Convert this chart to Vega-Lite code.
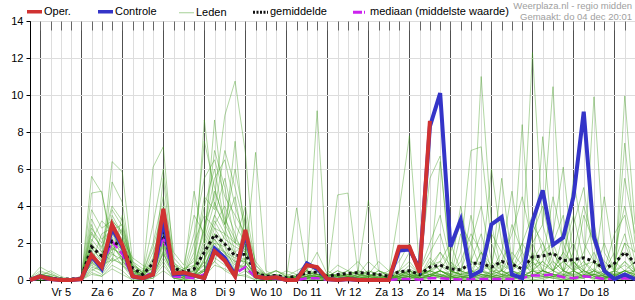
{
"$schema":"https://vega.github.io/schema/vega-lite/v6.json",
"autosize":{"type":"none"},
"width":605,"height":259,
"padding":{"left":30,"top":21,"right":0,"bottom":20},
"background":"#ffffff",
"config":{"font":"Liberation Sans","view":{"stroke":"#000000","strokeWidth":1},
"axisY":{"tickCount":7,"gridColor":"#dddddd","gridWidth":1,"tickSize":4,"tickColor":"#000000","domainColor":"#000000","labelFontSize":11,"labelColor":"#000000","labelPadding":3}},
"title":{"text":["Weerplaza.nl - regio midden","Gemaakt: do 04 dec 20:01"],"anchor":"end","frame":"group","fontSize":9.5,"fontWeight":"normal","color":"#a0a0a0","lineHeight":10.5,"offset":-15,"dx":-3},
"data":{"values":[
{"k":0,"o":0,"c":0,"g":0.05,"d":0,"m1":0,"m2":0,"m3":0,"m4":0.1,"m5":0,"m6":0,"m7":0,"m8":0.1,"m9":0,"m10":0,"m11":0,"m12":0,"m13":0,"m14":0,"m15":0,"m16":0.1,"m17":0,"m18":0,"m19":0,"m20":0,"m21":0,"m22":0,"m23":0,"m24":0,"m25":0.1,"m26":0,"m27":0,"m28":0,"m29":0,"m30":0},
{"k":1,"o":0.2,"c":0.2,"g":0.15,"d":0.1,"m1":0.1,"m2":0.3,"m3":0,"m4":0.7,"m5":0.2,"m6":0.1,"m7":0.2,"m8":0.3,"m9":0,"m10":0.1,"m11":0.2,"m12":0.1,"m13":0.4,"m14":0,"m15":0.2,"m16":0.2,"m17":0.1,"m18":0.2,"m19":0.1,"m20":0.3,"m21":0.2,"m22":0.1,"m23":0.3,"m24":0.2,"m25":0.5,"m26":0.1,"m27":0.2,"m28":0.1,"m29":0.3,"m30":0.1},
{"k":2,"o":0.05,"c":0.05,"g":0.1,"d":0.02,"m1":0,"m2":0.2,"m3":0.1,"m4":0.4,"m5":0.5,"m6":0,"m7":0.1,"m8":0.2,"m9":0,"m10":0.1,"m11":0,"m12":0,"m13":0.3,"m14":0,"m15":0.1,"m16":0.1,"m17":0,"m18":0.1,"m19":0,"m20":0.1,"m21":0.1,"m22":0,"m23":0.2,"m24":0,"m25":0.3,"m26":0.1,"m27":0.1,"m28":0,"m29":0.2,"m30":0},
{"k":3,"o":0,"c":0,"g":0.05,"d":0,"m1":0,"m2":0,"m3":0,"m4":0.1,"m5":0.2,"m6":0,"m7":0,"m8":0,"m9":0,"m10":0,"m11":0,"m12":0,"m13":0.1,"m14":0,"m15":0,"m16":0,"m17":0,"m18":0,"m19":0,"m20":0,"m21":0,"m22":0,"m23":0,"m24":0,"m25":0.1,"m26":0,"m27":0,"m28":0,"m29":0,"m30":0},
{"k":4,"o":0,"c":0,"g":0.05,"d":0,"m1":0,"m2":0,"m3":0,"m4":0,"m5":0,"m6":0,"m7":0,"m8":0,"m9":0,"m10":0,"m11":0,"m12":0,"m13":0,"m14":0,"m15":0,"m16":0,"m17":0,"m18":0,"m19":0,"m20":0,"m21":0,"m22":0,"m23":0,"m24":0,"m25":0,"m26":0,"m27":0,"m28":0,"m29":0,"m30":0},
{"k":5,"o":0.05,"c":0.05,"g":0.1,"d":0.02,"m1":0,"m2":0.1,"m3":0,"m4":0,"m5":0,"m6":0,"m7":0.2,"m8":0,"m9":0,"m10":0,"m11":0,"m12":0,"m13":0,"m14":0,"m15":0.1,"m16":0,"m17":0,"m18":0,"m19":0,"m20":0,"m21":0,"m22":0,"m23":0,"m24":0,"m25":0,"m26":0,"m27":0,"m28":0,"m29":0.1,"m30":0},
{"k":6,"o":1.35,"c":1.3,"g":1.8,"d":1.2,"m1":5.6,"m2":1.5,"m3":0.5,"m4":3.0,"m5":2.0,"m6":1.2,"m7":0.8,"m8":1.0,"m9":0.3,"m10":2.5,"m11":1.8,"m12":0.6,"m13":1.0,"m14":0.4,"m15":2.2,"m16":1.3,"m17":0.9,"m18":1.6,"m19":1.4,"m20":4.7,"m21":2.8,"m22":1.9,"m23":3.8,"m24":1.1,"m25":2.6,"m26":0.7,"m27":3.3,"m28":0.9,"m29":2.1,"m30":1.7},
{"k":7,"o":0.7,"c":0.6,"g":1.3,"d":0.7,"m1":4.7,"m2":1.0,"m3":0.8,"m4":1.5,"m5":1.2,"m6":0.7,"m7":0.5,"m8":0.4,"m9":0.2,"m10":1.8,"m11":1.0,"m12":0.3,"m13":0.6,"m14":0.2,"m15":1.5,"m16":0.9,"m17":2.5,"m18":0.6,"m19":0.8,"m20":4.8,"m21":2.0,"m22":1.3,"m23":2.8,"m24":0.7,"m25":1.7,"m26":0.5,"m27":2.2,"m28":0.6,"m29":3.2,"m30":1.1},
{"k":8,"o":3.0,"c":2.8,"g":2.1,"d":2.1,"m1":2.0,"m2":6.4,"m3":5.3,"m4":2.5,"m5":1.5,"m6":3.5,"m7":1.8,"m8":1.2,"m9":0.8,"m10":3.0,"m11":2.5,"m12":1.0,"m13":1.5,"m14":0.6,"m15":1.0,"m16":2.2,"m17":2.8,"m18":1.9,"m19":1.1,"m20":1.6,"m21":4.0,"m22":2.3,"m23":3.2,"m24":2.0,"m25":3.8,"m26":1.4,"m27":2.7,"m28":1.7,"m29":2.6,"m30":3.3},
{"k":9,"o":1.9,"c":1.8,"g":1.8,"d":1.4,"m1":1.5,"m2":5.85,"m3":4.2,"m4":2.0,"m5":0.8,"m6":2.5,"m7":1.2,"m8":0.8,"m9":0.5,"m10":2.2,"m11":1.5,"m12":1.3,"m13":2.8,"m14":0.3,"m15":3.5,"m16":1.6,"m17":1.0,"m18":1.2,"m19":0.9,"m20":2.2,"m21":3.2,"m22":1.7,"m23":2.6,"m24":1.0,"m25":2.9,"m26":1.1,"m27":3.0,"m28":1.4,"m29":1.9,"m30":2.4},
{"k":10,"o":0.2,"c":0.2,"g":0.65,"d":0.15,"m1":0.3,"m2":1.0,"m3":0.5,"m4":0.8,"m5":0.3,"m6":0.5,"m7":0.2,"m8":0.1,"m9":0,"m10":1.2,"m11":0.4,"m12":0.3,"m13":0.6,"m14":0,"m15":0.8,"m16":0.3,"m17":0.5,"m18":0.5,"m19":0.2,"m20":0.4,"m21":0.6,"m22":0.4,"m23":0.9,"m24":0.3,"m25":0.7,"m26":0.2,"m27":1.0,"m28":0.3,"m29":0.5,"m30":0.6},
{"k":11,"o":0.1,"c":0.1,"g":0.3,"d":0.05,"m1":0.1,"m2":0.3,"m3":0.2,"m4":0.5,"m5":0.1,"m6":0.2,"m7":0.1,"m8":0,"m9":0,"m10":0.8,"m11":0.2,"m12":0.1,"m13":0.3,"m14":0,"m15":0.4,"m16":0.2,"m17":0.3,"m18":0.2,"m19":0.1,"m20":0.2,"m21":0.3,"m22":0.2,"m23":0.4,"m24":0.1,"m25":0.4,"m26":0.1,"m27":0.6,"m28":0.1,"m29":0.3,"m30":0.3},
{"k":12,"o":0.3,"c":0.3,"g":0.9,"d":0.5,"m1":0.5,"m2":1.5,"m3":6.1,"m4":0.3,"m5":0.2,"m6":1.0,"m7":0.3,"m8":0.2,"m9":0.1,"m10":0.5,"m11":0.8,"m12":0.4,"m13":0.2,"m14":0.1,"m15":2.0,"m16":0.3,"m17":0.6,"m18":0.5,"m19":0.2,"m20":0.4,"m21":1.2,"m22":0.7,"m23":3.0,"m24":0.4,"m25":1.8,"m26":0.3,"m27":0.6,"m28":0.5,"m29":1.1,"m30":0.9},
{"k":13,"o":3.85,"c":3.2,"g":2.6,"d":2.4,"m1":2.0,"m2":3.0,"m3":7.2,"m4":5.5,"m5":1.5,"m6":3.5,"m7":2.2,"m8":1.0,"m9":0.5,"m10":2.8,"m11":3.2,"m12":1.8,"m13":1.5,"m14":0.8,"m15":4.5,"m16":2.6,"m17":2.4,"m18":1.9,"m19":1.2,"m20":1.6,"m21":4.0,"m22":2.9,"m23":6.0,"m24":2.1,"m25":3.8,"m26":1.4,"m27":3.3,"m28":2.3,"m29":3.0,"m30":3.6},
{"k":14,"o":0.35,"c":0.3,"g":0.65,"d":0.2,"m1":0.3,"m2":0.5,"m3":1.0,"m4":0.7,"m5":0.2,"m6":0.5,"m7":0.1,"m8":0.1,"m9":0.1,"m10":0.8,"m11":0.4,"m12":0.2,"m13":0.3,"m14":0.1,"m15":1.2,"m16":0.2,"m17":0.5,"m18":0.4,"m19":0.3,"m20":0.6,"m21":0.8,"m22":0.6,"m23":1.5,"m24":0.4,"m25":0.9,"m26":0.3,"m27":0.7,"m28":0.3,"m29":0.6,"m30":0.5},
{"k":15,"o":0.4,"c":0.35,"g":0.45,"d":0.15,"m1":0.1,"m2":0.2,"m3":0.3,"m4":0.4,"m5":0.1,"m6":0.3,"m7":0.1,"m8":0,"m9":0,"m10":0.5,"m11":0.2,"m12":0.3,"m13":0.2,"m14":0,"m15":0.6,"m16":0.1,"m17":0.3,"m18":0.2,"m19":0.1,"m20":0.4,"m21":0.5,"m22":0.3,"m23":0.8,"m24":0.2,"m25":0.6,"m26":0.1,"m27":0.4,"m28":0.2,"m29":0.3,"m30":0.3},
{"k":16,"o":0.25,"c":0.25,"g":0.6,"d":0.1,"m1":0.2,"m2":0.3,"m3":0.5,"m4":4.8,"m5":0.5,"m6":0.2,"m7":0.3,"m8":0.1,"m9":0.2,"m10":0.3,"m11":0.2,"m12":0.5,"m13":0.1,"m14":0,"m15":1.0,"m16":0.1,"m17":0.8,"m18":0.3,"m19":0.2,"m20":0.2,"m21":2.5,"m22":1.5,"m23":3.5,"m24":0.4,"m25":0.8,"m26":0.2,"m27":1.2,"m28":0.6,"m29":2.0,"m30":0.7},
{"k":17,"o":0.1,"c":0.1,"g":1.5,"d":0.3,"m1":1.0,"m2":2.0,"m3":8.65,"m4":2.0,"m5":3.0,"m6":1.5,"m7":0.8,"m8":0.5,"m9":0.6,"m10":1.0,"m11":0.5,"m12":0.8,"m13":0.5,"m14":0.2,"m15":4.0,"m16":1.2,"m17":0.3,"m18":0.5,"m19":0.6,"m20":1.5,"m21":5.5,"m22":7.5,"m23":2.5,"m24":1.8,"m25":2.8,"m26":1.1,"m27":4.5,"m28":2.2,"m29":3.5,"m30":2.6},
{"k":18,"o":1.55,"c":1.7,"g":2.45,"d":1.5,"m1":2.5,"m2":3.5,"m3":4.0,"m4":8.65,"m5":4.5,"m6":3.0,"m7":2.0,"m8":1.5,"m9":1.2,"m10":3.5,"m11":2.2,"m12":1.8,"m13":1.0,"m14":0.8,"m15":6.0,"m16":2.0,"m17":1.0,"m18":2.5,"m19":1.6,"m20":2.2,"m21":6.5,"m22":5.0,"m23":7.0,"m24":3.2,"m25":5.5,"m26":2.8,"m27":3.8,"m28":4.2,"m29":2.8,"m30":4.8},
{"k":19,"o":1.05,"c":1.2,"g":1.95,"d":1.0,"m1":1.5,"m2":2.5,"m3":3.0,"m4":3.5,"m5":8.9,"m6":4.0,"m7":1.2,"m8":1.0,"m9":0.8,"m10":5.5,"m11":1.5,"m12":1.5,"m13":0.5,"m14":0.6,"m15":3.0,"m16":1.8,"m17":2.5,"m18":2.0,"m19":1.1,"m20":1.4,"m21":4.5,"m22":3.0,"m23":5.0,"m24":2.2,"m25":6.5,"m26":1.9,"m27":7.0,"m28":2.8,"m29":2.5,"m30":3.3},
{"k":20,"o":0.2,"c":0.25,"g":1.3,"d":0.35,"m1":0.5,"m2":1.0,"m3":2.0,"m4":1.5,"m5":10.75,"m6":2.5,"m7":0.3,"m8":0.2,"m9":0.5,"m10":3.0,"m11":0.8,"m12":1.2,"m13":0.2,"m14":0.3,"m15":4.5,"m16":0.6,"m17":2.0,"m18":1.5,"m19":0.5,"m20":1.0,"m21":3.5,"m22":6.0,"m23":2.0,"m24":1.8,"m25":4.0,"m26":0.9,"m27":5.0,"m28":1.3,"m29":7.5,"m30":2.2},
{"k":21,"o":2.7,"c":2.5,"g":1.4,"d":0.7,"m1":1.0,"m2":0.5,"m3":1.5,"m4":2.0,"m5":6.9,"m6":1.0,"m7":3.5,"m8":0.3,"m9":0.8,"m10":2.0,"m11":1.2,"m12":1.0,"m13":0.5,"m14":0.2,"m15":1.5,"m16":0.8,"m17":1.8,"m18":0.8,"m19":0.6,"m20":1.0,"m21":2.5,"m22":3.0,"m23":4.0,"m24":1.5,"m25":2.2,"m26":0.7,"m27":2.8,"m28":1.1,"m29":1.8,"m30":1.6},
{"k":22,"o":0.2,"c":0.2,"g":0.4,"d":0.15,"m1":0.2,"m2":0.1,"m3":0.5,"m4":0.3,"m5":0.5,"m6":6.9,"m7":0.2,"m8":0,"m9":0.1,"m10":0.5,"m11":0.2,"m12":0.3,"m13":0.1,"m14":0,"m15":0.8,"m16":0.1,"m17":0.3,"m18":0.2,"m19":0.1,"m20":0.2,"m21":0.5,"m22":1.0,"m23":0.8,"m24":0.3,"m25":0.6,"m26":0.2,"m27":0.4,"m28":0.2,"m29":0.4,"m30":0.3},
{"k":23,"o":0.1,"c":0.1,"g":0.2,"d":0.05,"m1":0,"m2":0,"m3":0.1,"m4":0.2,"m5":0.1,"m6":0.5,"m7":0.1,"m8":0,"m9":0,"m10":0.3,"m11":0.1,"m12":0.2,"m13":0,"m14":0,"m15":0.3,"m16":0.1,"m17":0.1,"m18":0,"m19":0,"m20":0.1,"m21":0.2,"m22":0.3,"m23":0.2,"m24":0.1,"m25":0.3,"m26":0,"m27":0.2,"m28":0.1,"m29":0.2,"m30":0.1},
{"k":24,"o":0.15,"c":0.15,"g":0.25,"d":0.05,"m1":0,"m2":0.1,"m3":0,"m4":0.5,"m5":0.2,"m6":0.2,"m7":0,"m8":0.1,"m9":0,"m10":0.5,"m11":0,"m12":0.1,"m13":0.2,"m14":0,"m15":0.2,"m16":0,"m17":0.2,"m18":0.1,"m19":0,"m20":0.1,"m21":0.3,"m22":0.1,"m23":0.3,"m24":0.1,"m25":0.5,"m26":0,"m27":0.2,"m28":0,"m29":0.1,"m30":0.2},
{"k":25,"o":0,"c":0,"g":0.12,"d":0,"m1":0,"m2":0,"m3":0,"m4":0.3,"m5":0.1,"m6":0,"m7":0.1,"m8":0.2,"m9":0,"m10":0.2,"m11":0,"m12":0,"m13":0.5,"m14":0,"m15":0.1,"m16":0.1,"m17":0,"m18":0,"m19":0,"m20":0.1,"m21":0.1,"m22":0,"m23":0.2,"m24":0,"m25":0.2,"m26":0,"m27":0.1,"m28":0,"m29":0.1,"m30":0.1},
{"k":26,"o":0,"c":0,"g":0.2,"d":0,"m1":0,"m2":0.2,"m3":0.1,"m4":0.2,"m5":0,"m6":0,"m7":3.9,"m8":0.1,"m9":0,"m10":0.1,"m11":0,"m12":0,"m13":0.3,"m14":0,"m15":0.2,"m16":0,"m17":0.1,"m18":0.2,"m19":0,"m20":0.1,"m21":0.2,"m22":0,"m23":0.1,"m24":0.1,"m25":0.5,"m26":0,"m27":0.2,"m28":0.1,"m29":0.3,"m30":0},
{"k":27,"o":0.8,"c":0.9,"g":0.4,"d":0.1,"m1":0.2,"m2":0.3,"m3":0.5,"m4":0.5,"m5":0.1,"m6":0.1,"m7":0.5,"m8":0,"m9":0.1,"m10":0.2,"m11":0.1,"m12":0.2,"m13":0.2,"m14":0,"m15":1.0,"m16":0.2,"m17":0.3,"m18":0.1,"m19":0.1,"m20":0.2,"m21":0.5,"m22":0.2,"m23":0.3,"m24":0.2,"m25":0.8,"m26":0.1,"m27":0.4,"m28":0.1,"m29":0.5,"m30":0.2},
{"k":28,"o":0.7,"c":0.6,"g":0.42,"d":0.1,"m1":0.3,"m2":0.1,"m3":0.3,"m4":9.15,"m5":0.2,"m6":0.2,"m7":0.2,"m8":0.1,"m9":0,"m10":0.5,"m11":0.3,"m12":0.1,"m13":0.5,"m14":0,"m15":0.5,"m16":0.1,"m17":0.2,"m18":0.2,"m19":0,"m20":0.1,"m21":1.5,"m22":0.5,"m23":0.8,"m24":0.3,"m25":0.5,"m26":0.2,"m27":0.3,"m28":0.2,"m29":0.4,"m30":0.3},
{"k":29,"o":0.05,"c":0.05,"g":0.2,"d":0,"m1":0.1,"m2":0,"m3":0,"m4":0.5,"m5":0.1,"m6":0,"m7":0.1,"m8":0.3,"m9":0,"m10":0.2,"m11":0.2,"m12":0,"m13":0.2,"m14":0,"m15":0.2,"m16":0,"m17":0.1,"m18":0.1,"m19":0,"m20":0.1,"m21":0.3,"m22":0.1,"m23":0.2,"m24":0.1,"m25":0.3,"m26":0,"m27":0.2,"m28":0.1,"m29":0.2,"m30":0.1},
{"k":30,"o":0,"c":0,"g":0.3,"d":0,"m1":0,"m2":0,"m3":0.3,"m4":0.2,"m5":4.6,"m6":0.1,"m7":0,"m8":0.2,"m9":0,"m10":0.5,"m11":0.1,"m12":0,"m13":0.5,"m14":0,"m15":0.3,"m16":0.1,"m17":0.2,"m18":0,"m19":0,"m20":0.1,"m21":0.2,"m22":0,"m23":0.3,"m24":0.1,"m25":0.8,"m26":0,"m27":0.2,"m28":0.1,"m29":0.3,"m30":0.2},
{"k":31,"o":0.05,"c":0.05,"g":0.35,"d":0,"m1":0.2,"m2":0,"m3":0.2,"m4":0.1,"m5":4.7,"m6":0.3,"m7":0.1,"m8":0.1,"m9":0,"m10":0.3,"m11":0,"m12":0,"m13":0.2,"m14":0,"m15":0.5,"m16":0.2,"m17":0.3,"m18":0.1,"m19":0,"m20":0.2,"m21":0.5,"m22":0.1,"m23":0.2,"m24":0.2,"m25":0.5,"m26":0,"m27":0.3,"m28":0.1,"m29":0.2,"m30":0.1},
{"k":32,"o":0,"c":0,"g":0.4,"d":0,"m1":0.5,"m2":0.1,"m3":0,"m4":0.3,"m5":0.3,"m6":0.5,"m7":0.1,"m8":0,"m9":0,"m10":0.2,"m11":0,"m12":0.2,"m13":0.5,"m14":0,"m15":0.3,"m16":0.1,"m17":0.1,"m18":0.3,"m19":0,"m20":0.1,"m21":1.0,"m22":0.2,"m23":0.1,"m24":0.1,"m25":0.3,"m26":0,"m27":0.2,"m28":0.2,"m29":0.4,"m30":0.1},
{"k":33,"o":0,"c":0,"g":0.35,"d":0,"m1":0.3,"m2":0,"m3":0,"m4":0.2,"m5":0.1,"m6":4.3,"m7":0.2,"m8":0.1,"m9":0,"m10":0.5,"m11":0.1,"m12":0.1,"m13":0.3,"m14":0,"m15":0.2,"m16":0,"m17":0.2,"m18":0.2,"m19":0,"m20":0.1,"m21":0.3,"m22":0.5,"m23":0.1,"m24":0,"m25":1.0,"m26":0,"m27":0.3,"m28":0.1,"m29":0.2,"m30":0.2},
{"k":34,"o":0,"c":0,"g":0.3,"d":0,"m1":0.1,"m2":0,"m3":0,"m4":0.5,"m5":0,"m6":0.5,"m7":0.5,"m8":0.2,"m9":0,"m10":0.3,"m11":0,"m12":0,"m13":1.0,"m14":0,"m15":0.1,"m16":0.1,"m17":0.3,"m18":0.1,"m19":0,"m20":0.1,"m21":0.2,"m22":0.3,"m23":0.2,"m24":0.1,"m25":0.5,"m26":0.1,"m27":0.1,"m28":0,"m29":0.3,"m30":0.1},
{"k":35,"o":0,"c":0,"g":0.2,"d":0,"m1":0,"m2":0,"m3":0,"m4":0.3,"m5":0,"m6":0.2,"m7":0.3,"m8":0.1,"m9":0,"m10":0.1,"m11":0,"m12":0,"m13":0.5,"m14":0,"m15":0.3,"m16":0,"m17":0.1,"m18":0,"m19":0,"m20":0.2,"m21":0.1,"m22":0.1,"m23":0.5,"m24":0.1,"m25":0.2,"m26":0,"m27":0.2,"m28":0,"m29":0.1,"m30":0.1},
{"k":36,"o":1.8,"c":1.6,"g":0.45,"d":0.05,"m1":0.2,"m2":0.3,"m3":0.1,"m4":0.1,"m5":0.5,"m6":0.1,"m7":3.8,"m8":0,"m9":0.1,"m10":0.2,"m11":0.2,"m12":0.3,"m13":0.1,"m14":0,"m15":0.5,"m16":0.2,"m17":0,"m18":0.1,"m19":0,"m20":0.2,"m21":0.5,"m22":0.2,"m23":1.0,"m24":0.3,"m25":0.3,"m26":0.1,"m27":0.5,"m28":0.2,"m29":0.2,"m30":0.3},
{"k":37,"o":1.8,"c":1.65,"g":0.5,"d":0.05,"m1":0.3,"m2":0.5,"m3":0.2,"m4":0.3,"m5":0.3,"m6":0.2,"m7":7.8,"m8":0.1,"m9":0.2,"m10":0.3,"m11":0.1,"m12":0.2,"m13":0.2,"m14":0.1,"m15":1.0,"m16":0.5,"m17":0.1,"m18":0.2,"m19":0,"m20":0.5,"m21":1.5,"m22":0.5,"m23":2.0,"m24":0.5,"m25":0.8,"m26":0.2,"m27":0.3,"m28":0.3,"m29":0.4,"m30":0.6},
{"k":38,"o":0.4,"c":0.6,"g":0.3,"d":0.02,"m1":0.1,"m2":0.2,"m3":0,"m4":0.2,"m5":0.1,"m6":0.5,"m7":0.5,"m8":0.3,"m9":0.1,"m10":0.5,"m11":0.1,"m12":0,"m13":0.3,"m14":0,"m15":0.3,"m16":0.1,"m17":0.2,"m18":0.1,"m19":0,"m20":0.3,"m21":0.5,"m22":0.2,"m23":0.5,"m24":0.2,"m25":0.3,"m26":0.1,"m27":0.2,"m28":0.1,"m29":0.2,"m30":0.3},
{"k":39,"o":8.6,"c":8.3,"g":0.7,"d":0.1,"m1":1.0,"m2":0.5,"m3":0.3,"m4":0.5,"m5":0.2,"m6":5.5,"m7":0.3,"m8":0.5,"m9":0.3,"m10":0.5,"m11":0.3,"m12":0.2,"m13":0.2,"m14":0.1,"m15":0.8,"m16":0.2,"m17":1.2,"m18":0.3,"m19":0.1,"m20":0.5,"m21":2.0,"m22":0.5,"m23":1.5,"m24":0.3,"m25":0.5,"m26":0.2,"m27":0.8,"m28":0.2,"m29":0.3,"m30":0.4},
{"k":40,"c":10.1,"g":0.8,"d":0.1,"m1":0.5,"m2":6.4,"m3":0.2,"m4":0.3,"m5":0.5,"m6":6.7,"m7":0.2,"m8":0.2,"m9":0.5,"m10":0.3,"m11":0.2,"m12":0.1,"m13":0.5,"m14":0.2,"m15":1.0,"m16":0.3,"m17":0.5,"m18":0.1,"m19":0.2,"m20":1.5,"m21":3.5,"m22":0.8,"m23":2.5,"m24":0.5,"m25":1.0,"m26":0.3,"m27":1.5,"m28":0.5,"m29":0.5,"m30":0.8},
{"k":41,"c":1.8,"g":0.6,"d":0.05,"m1":0.2,"m2":1.0,"m3":0,"m4":0.1,"m5":0.2,"m6":0.5,"m7":0.5,"m8":0.1,"m9":0.3,"m10":0.2,"m11":0.3,"m12":0.2,"m13":1.5,"m14":0.1,"m15":0.5,"m16":0.1,"m17":0.3,"m18":0.2,"m19":0.1,"m20":0.5,"m21":1.0,"m22":0.3,"m23":0.5,"m24":0.2,"m25":2.0,"m26":0.1,"m27":0.8,"m28":0.2,"m29":0.3,"m30":0.5},
{"k":42,"c":3.25,"g":0.55,"d":0.03,"m1":0,"m2":0.2,"m3":0,"m4":1.5,"m5":0.1,"m6":0.2,"m7":0.3,"m8":2.5,"m9":0.2,"m10":0.1,"m11":0.5,"m12":0,"m13":3.0,"m14":0,"m15":0.3,"m16":0.2,"m17":0.2,"m18":0.1,"m19":0.5,"m20":0.3,"m21":0.5,"m22":4.0,"m23":0.3,"m24":0.1,"m25":0.5,"m26":0.2,"m27":0.5,"m28":0.3,"m29":1.0,"m30":0.3},
{"k":43,"c":0.2,"g":0.9,"d":0.05,"m1":0.3,"m2":0,"m3":0.5,"m4":7.0,"m5":0,"m6":0.1,"m7":0.2,"m8":0.5,"m9":0.1,"m10":0.3,"m11":0.3,"m12":0.1,"m13":2.0,"m14":0,"m15":1.0,"m16":0.5,"m17":0.1,"m18":0.5,"m19":0.2,"m20":0.2,"m21":2.0,"m22":1.0,"m23":3.5,"m24":0.3,"m25":0.3,"m26":0.1,"m27":1.0,"m28":0.5,"m29":2.5,"m30":0.5},
{"k":44,"c":0.5,"g":0.9,"d":0.05,"m1":0.5,"m2":0.1,"m3":1.5,"m4":7.2,"m5":0,"m6":0.3,"m7":0.1,"m8":11.0,"m9":0.5,"m10":0.5,"m11":0.2,"m12":0.3,"m13":0.5,"m14":0.1,"m15":0.8,"m16":0.2,"m17":0.3,"m18":0.3,"m19":0.1,"m20":0.5,"m21":4.0,"m22":0.5,"m23":1.0,"m24":0.8,"m25":1.5,"m26":0.2,"m27":2.5,"m28":0.3,"m29":1.5,"m30":0.6},
{"k":45,"c":3.0,"g":0.7,"d":0.05,"m1":0.1,"m2":0.3,"m3":0.3,"m4":2.0,"m5":0.5,"m6":0.2,"m7":0,"m8":3.0,"m9":0.3,"m10":0.8,"m11":0.5,"m12":0.2,"m13":0.2,"m14":0.2,"m15":2.5,"m16":0.1,"m17":0.2,"m18":0.1,"m19":0.3,"m20":0.3,"m21":1.0,"m22":6.0,"m23":0.5,"m24":0.5,"m25":0.8,"m26":0.1,"m27":0.5,"m28":0.2,"m29":0.5,"m30":0.3},
{"k":46,"c":3.4,"g":1.0,"d":0.05,"m1":0,"m2":1.0,"m3":0.5,"m4":0.5,"m5":1.5,"m6":0,"m7":0.2,"m8":0.5,"m9":0.2,"m10":0.3,"m11":5.5,"m12":0.3,"m13":0.3,"m14":0.1,"m15":1.5,"m16":0.5,"m17":0.1,"m18":0.2,"m19":0.2,"m20":0.5,"m21":0.5,"m22":2.0,"m23":1.0,"m24":0.3,"m25":3.5,"m26":0.2,"m27":0.5,"m28":0.1,"m29":0.3,"m30":0.8},
{"k":47,"c":0.3,"g":0.85,"d":0.05,"m1":0,"m2":0.5,"m3":0.2,"m4":0.2,"m5":4.8,"m6":0.1,"m7":0.3,"m8":0.2,"m9":0.5,"m10":0.2,"m11":1.0,"m12":0.1,"m13":0.5,"m14":0,"m15":0.5,"m16":0.3,"m17":0.2,"m18":0.1,"m19":0.1,"m20":1.0,"m21":3.0,"m22":0.5,"m23":2.5,"m24":0.2,"m25":1.0,"m26":0.5,"m27":1.5,"m28":0.3,"m29":1.0,"m30":0.5},
{"k":48,"c":0.1,"g":0.6,"d":0.1,"m1":0.2,"m2":0.2,"m3":0.1,"m4":0.3,"m5":1.0,"m6":0,"m7":8.4,"m8":0.1,"m9":1.5,"m10":0.5,"m11":0.3,"m12":0.2,"m13":2.0,"m14":0.2,"m15":1.0,"m16":0.1,"m17":0.1,"m18":0.3,"m19":0.2,"m20":0.5,"m21":1.5,"m22":0.3,"m23":4.5,"m24":0.5,"m25":0.5,"m26":0.2,"m27":0.8,"m28":0.2,"m29":2.0,"m30":0.3},
{"k":49,"c":3.15,"g":1.25,"d":0.25,"m1":1.5,"m2":0,"m3":0.3,"m4":1.0,"m5":0.3,"m6":0,"m7":0.5,"m8":0.5,"m9":12.3,"m10":0.3,"m11":0.2,"m12":2.5,"m13":1.0,"m14":0.5,"m15":3.0,"m16":0.2,"m17":0.3,"m18":0.2,"m19":0.1,"m20":0.8,"m21":0.5,"m22":0.2,"m23":2.0,"m24":1.0,"m25":2.0,"m26":0.5,"m27":0.5,"m28":0.5,"m29":3.5,"m30":1.2},
{"k":50,"c":4.85,"g":1.3,"d":0.25,"m1":0.5,"m2":0,"m3":7.75,"m4":0.5,"m5":0.2,"m6":0.1,"m7":0.2,"m8":0.3,"m9":3.0,"m10":0.5,"m11":0.5,"m12":4.0,"m13":0.3,"m14":0.3,"m15":2.0,"m16":0.5,"m17":0.2,"m18":0.1,"m19":0.2,"m20":1.0,"m21":1.0,"m22":0.5,"m23":0.5,"m24":2.0,"m25":3.0,"m26":0.5,"m27":1.5,"m28":1.0,"m29":1.5,"m30":0.8},
{"k":51,"c":1.9,"g":1.45,"d":0.3,"m1":0.2,"m2":0.2,"m3":2.0,"m4":0.3,"m5":0.1,"m6":0.3,"m7":0.1,"m8":0.2,"m9":10.45,"m10":2.5,"m11":0.3,"m12":1.5,"m13":0.5,"m14":0.2,"m15":0.5,"m16":0.3,"m17":1.5,"m18":0.2,"m19":0.1,"m20":0.5,"m21":4.5,"m22":0.3,"m23":1.0,"m24":0.8,"m25":1.0,"m26":0.3,"m27":2.0,"m28":0.5,"m29":0.5,"m30":0.5},
{"k":52,"c":2.3,"g":1.05,"d":0.15,"m1":0,"m2":0.5,"m3":0.5,"m4":0.2,"m5":0.5,"m6":0.2,"m7":0,"m8":0.1,"m9":1.0,"m10":6.1,"m11":0.2,"m12":0.5,"m13":1.0,"m14":0.1,"m15":1.5,"m16":0.2,"m17":0.5,"m18":0.3,"m19":0,"m20":0.3,"m21":2.0,"m22":2.5,"m23":0.5,"m24":0.3,"m25":0.5,"m26":0.2,"m27":3.5,"m28":0.2,"m29":1.0,"m30":1.5},
{"k":53,"c":4.5,"g":1.1,"d":0.1,"m1":0.1,"m2":1.0,"m3":0.2,"m4":0.5,"m5":0.3,"m6":0,"m7":0.1,"m8":0.5,"m9":0.5,"m10":1.0,"m11":3.0,"m12":0.3,"m13":0.5,"m14":0,"m15":3.5,"m16":1.0,"m17":0.2,"m18":0.1,"m19":0.1,"m20":0.5,"m21":0.5,"m22":1.0,"m23":5.5,"m24":0.2,"m25":1.5,"m26":0.1,"m27":0.5,"m28":0.3,"m29":2.0,"m30":0.8},
{"k":54,"c":9.1,"g":1.2,"d":0.2,"m1":0.3,"m2":0.3,"m3":0.1,"m4":1.0,"m5":0.2,"m6":0.1,"m7":0.2,"m8":0.2,"m9":0.2,"m10":0.5,"m11":5.0,"m12":3.5,"m13":0.2,"m14":0.2,"m15":1.0,"m16":0.5,"m17":0.1,"m18":0.5,"m19":0.3,"m20":0.2,"m21":1.5,"m22":0.3,"m23":2.0,"m24":0.5,"m25":4.0,"m26":0.2,"m27":0.8,"m28":0.5,"m29":0.5,"m30":0.4},
{"k":55,"c":2.35,"g":1.0,"d":0.15,"m1":0,"m2":0.1,"m3":0.5,"m4":0.3,"m5":1.0,"m6":0.3,"m7":0.5,"m8":0.1,"m9":0.1,"m10":9.9,"m11":1.0,"m12":2.0,"m13":0.3,"m14":0.5,"m15":0.5,"m16":0.2,"m17":0.3,"m18":0.2,"m19":0.2,"m20":0.3,"m21":3.0,"m22":0.5,"m23":1.0,"m24":1.5,"m25":2.0,"m26":0.3,"m27":1.0,"m28":0.2,"m29":0.3,"m30":0.6},
{"k":56,"c":0.5,"g":0.6,"d":0.05,"m1":0,"m2":0,"m3":0.2,"m4":0.1,"m5":0.5,"m6":0.1,"m7":0.2,"m8":0.3,"m9":0,"m10":1.5,"m11":0.2,"m12":0.5,"m13":0.5,"m14":0.2,"m15":0.3,"m16":0.1,"m17":0.2,"m18":0.1,"m19":0.1,"m20":0.2,"m21":0.5,"m22":4.5,"m23":0.5,"m24":0.3,"m25":1.0,"m26":0.2,"m27":0.5,"m28":0.1,"m29":2.0,"m30":0.3},
{"k":57,"c":0.05,"g":0.9,"d":0.05,"m1":0.5,"m2":0,"m3":0,"m4":0.2,"m5":0.3,"m6":0.2,"m7":0.1,"m8":0.5,"m9":0.2,"m10":0.5,"m11":0.1,"m12":0.2,"m13":1.5,"m14":0.1,"m15":1.0,"m16":0.3,"m17":0.5,"m18":0.3,"m19":0,"m20":0.3,"m21":0.3,"m22":1.0,"m23":2.5,"m24":0.2,"m25":0.5,"m26":0.1,"m27":0.8,"m28":0.3,"m29":0.5,"m30":0.5},
{"k":58,"c":0.3,"g":1.5,"d":0.1,"m1":2.0,"m2":0.2,"m3":0.1,"m4":0.5,"m5":7.4,"m6":0.5,"m7":0,"m8":0.2,"m9":0.1,"m10":0.3,"m11":9.95,"m12":0.5,"m13":4.0,"m14":0,"m15":2.5,"m16":0.2,"m17":1.0,"m18":0.2,"m19":0.2,"m20":0.5,"m21":1.0,"m22":0.5,"m23":3.5,"m24":0.5,"m25":2.0,"m26":0.3,"m27":1.5,"m28":0.5,"m29":5.5,"m30":0.8},
{"k":59,"c":0.05,"g":0.9,"d":0.05,"m1":0.5,"m2":0.1,"m3":0.3,"m4":1.0,"m5":2.0,"m6":0.3,"m7":0.2,"m8":0.1,"m9":0,"m10":0.5,"m11":3.0,"m12":0.3,"m13":1.5,"m14":0.1,"m15":0.5,"m16":0.1,"m17":0.3,"m18":0.5,"m19":0.1,"m20":0.5,"m21":0.5,"m22":0.2,"m23":1.0,"m24":0.2,"m25":1.5,"m26":0.2,"m27":0.5,"m28":0.3,"m29":2.5,"m30":0.4}
]},
"resolve":{"axis":{"x":"independent"}},
"encoding":{"x":{"field":"k","type":"quantitative","scale":{"domain":[0,59],"nice":false,"zero":false},"axis":null}},
"layer":[
{"transform":[{"fold":["m1","m2","m3","m4","m5","m6","m7","m8","m9","m10","m11","m12","m13","m14","m15","m16","m17","m18","m19","m20","m21","m22","m23","m24","m25","m26","m27","m28","m29","m30"],"as":["lid","v"]}],
"mark":{"type":"line"},
"encoding":{
"x":{"field":"k","type":"quantitative","scale":{"domain":[0,59],"nice":false,"zero":false},"axis":{"orient":"bottom","title":null,"values":[0,1,2,3,4,5,6,7,8,9,10,11,12,13,14,15,16,17,18,19,20,21,22,23,24,25,26,27,28,29,30,31,32,33,34,35,36,37,38,39,40,41,42,43,44,45,46,47,48,49,50,51,52,53,54,55,56,57,58,59],"grid":true,"gridColor":{"condition":{"test":"datum.value % 4 == 1","value":"#505050"},"value":"#dddddd"},"gridWidth":1,"tickSize":3,"tickColor":"#000000","domainColor":"#000000","labelFontSize":11,"labelColor":"#000000","labelPadding":3,"labelOverlap":false,"labelFlush":false,"labelExpr":"datum.value % 4 == 3 && datum.value < 59 ? ['Vr 5','Za 6','Zo 7','Ma 8','Di 9','Wo 10','Do 11','Vr 12','Za 13','Zo 14','Ma 15','Di 16','Wo 17','Do 18'][(datum.value - 3) / 4] : ''"}},
"y":{"field":"v","type":"quantitative","scale":{"domain":[0,14],"nice":false},"title":null},
"detail":{"field":"lid"},
"strokeWidth":{"value":1},
"opacity":{"value":0.4},
"color":{"datum":"Leden","scale":{"domain":["Oper.","Controle","Leden","gemiddelde","mediaan (middelste waarde)"],"range":["#d03232","#3434c8","#3d9a1a","#111111","#cc22ee"]},
"legend":{"orient":"none","legendX":-1,"legendY":-15,"direction":"horizontal","title":null,"symbolType":"stroke","symbolSize":225,"labelFontSize":11,"labelColor":"#000000","labelOffset":4,"columnPadding":20,"padding":0,
"symbolStrokeWidth":{"expr":"datum.value === 'Oper.' || datum.value === 'Controle' ? 3.5 : datum.value === 'Leden' ? 1 : 3"},
"symbolDash":{"expr":"datum.value === 'gemiddelde' ? [2,1.5] : datum.value === 'mediaan (middelste waarde)' ? [9,2,1,3] : [1,0]"},
"symbolOpacity":{"expr":"datum.value === 'Leden' ? 0.45 : 1"}}}
}},
{"mark":{"type":"line","strokeWidth":2.5,"strokeDash":[9,4]},
"encoding":{"y":{"field":"d","type":"quantitative","scale":{"domain":[0,14],"nice":false},"title":null},"color":{"datum":"mediaan (middelste waarde)","legend":null}}},
{"mark":{"type":"line","strokeWidth":3,"strokeDash":[3,3]},
"encoding":{"y":{"field":"g","type":"quantitative","scale":{"domain":[0,14],"nice":false},"title":null},"color":{"datum":"gemiddelde","legend":null}}},
{"mark":{"type":"line","strokeWidth":4},
"encoding":{"y":{"field":"c","type":"quantitative","scale":{"domain":[0,14],"nice":false},"title":null},"color":{"datum":"Controle","legend":null}}},
{"mark":{"type":"line","strokeWidth":4},
"encoding":{
"x":{"field":"k","type":"quantitative","scale":{"domain":[0,59],"nice":false,"zero":false},"axis":{"orient":"top","title":null,"values":[0,1,2,3,4,5,6,7,8,9,10,11,12,13,14,15,16,17,18,19,20,21,22,23,24,25,26,27,28,29,30,31,32,33,34,35,36,37,38,39,40,41,42,43,44,45,46,47,48,49,50,51,52,53,54,55,56,57,58,59],"grid":false,"labels":false,"domain":false,"tickSize":-9,"tickColor":"#666666"}},
"y":{"field":"o","type":"quantitative","scale":{"domain":[0,14],"nice":false},"title":null},"color":{"datum":"Oper.","legend":null}}}
]
}
